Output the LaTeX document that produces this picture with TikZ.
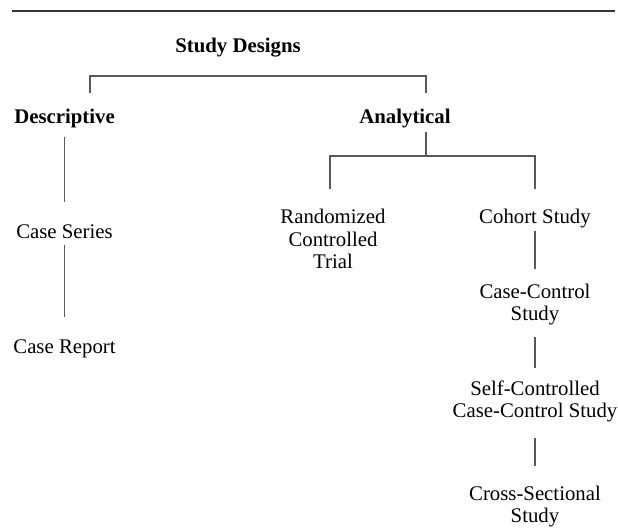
\documentclass[tikz,border=0pt]{standalone}
\usepackage{fontspec}
\setmainfont{Liberation Serif}
\usetikzlibrary{positioning,calc}

\begin{document}
\begin{tikzpicture}[x=0.5pt, y=-0.5pt,
  lbl/.style={font=\fontsize{10.4}{11.3}\selectfont, align=center, inner sep=0pt, anchor=base},
  head/.style={lbl, font=\fontsize{10.4}{11.3}\selectfont\bfseries},
  link/.style={draw=black!65, line width=0.7pt}]
  \useasboundingbox (0,0) rectangle (618,529);
  \draw[line width=1pt, black!80] (12,11) -- (615,11);

  % base = last line of a node
  \node[head] (SD) at (238,53) {Study Designs};
  \node[head] (D) at (64.5,124) {Descriptive};
  \node[head] (A) at (405,124) {Analytical};
  \node[lbl] (CS) at (64.5,239) {Case Series};
  \node[lbl] (CR) at (64.5,354) {Case Report};
  \node[lbl] (RCT) at (333,269) {Randomized\\Controlled\\Trial};
  \node[lbl] (CO) at (535,224) {Cohort Study};
  \node[lbl] (CC) at (535,321) {Case-Control\\Study};
  \node[lbl] (SC) at (535,418) {Self-Controlled\\Case-Control Study};
  \node[lbl] (XS) at (535,523) {Cross-Sectional\\Study};

  % descriptive / analytical bracket
  \draw[link] ($(D.base)+(25.5,-31)$) -- ++(0,-17) -| ($(A.base)+(21,-31)$);
  \draw[link] ($(D.base)+(0,13)$) -- ($(CS.base)+(0,-37)$);
  \draw[link] ($(CS.base)+(0,6)$) -- ($(CR.base)+(0,-37)$);
  % analytical branch
  \draw[link] ($(A.base)+(21,8)$) -- ++(0,24);
  \draw[link] ($(RCT.base)+(-3,-80)$) |- ($(CO.base)+(0,-68)$) -- ($(CO.base)+(0,-35)$);
  \draw[link] ($(CO.base)+(0,7)$) -- ($(CC.base)+(0,-52)$);
  \draw[link] ($(CC.base)+(0,16)$) -- ($(SC.base)+(0,-50)$);
  \draw[link] ($(SC.base)+(0,20)$) -- ($(XS.base)+(0,-57)$);
\end{tikzpicture}
\end{document}
